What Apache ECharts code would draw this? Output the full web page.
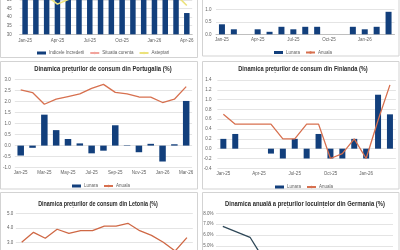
<!DOCTYPE html>
<html>
<head>
<meta charset="utf-8">
<script src="https://cdn.jsdelivr.net/npm/echarts@6/dist/echarts.min.js"></script>
<style>
html, body { margin: 0; padding: 0; background: #fff; }
#chart { width: 400px; height: 250px; }
</style>
</head>
<body>
<div id="chart"></div>
<script>
// months shown on the monthly charts
var months16 = ['Jan-25','Feb-25','Mar-25','Apr-25','May-25','Jun-25','Jul-25','Aug-25','Sep-25','Oct-25','Nov-25','Dec-25','Jan-26','Feb-26','Mar-26','Apr-26'];
var months15 = months16.slice(0, 15);
var quartersDE = ['T1-22','T2-22','T3-22','T4-22','T1-23','T2-23','T3-23','T4-23','T1-24','T2-24','T3-24','T4-24','T1-25'];

// top left: confidence index (mostly above the visible part)
var incredere = [53.5, 53, 52.5, 52, 52.5, 53, 53.5, 54, 53.5, 53, 53.5, 54, 53.5, 53, 52.5, 42.4];
var situatie = [55, 54.5, 54, 53.5, 54, 54.5, 55, 55.5, 55, 54.5, 55, 55.5, 55, 54.5, 54, 52];
var asteptari = [54, 53, 52.4, 47.6, 50.3, 53, 54, 54.5, 54, 53.5, 54, 54.5, 54, 53.5, 53, 46.8];

// top right
var lunara2 = [0.4, 0.2, 0, 0.2, 0.1, 0.3, 0.2, 0.3, 0.3, 0, 0, 0.3, 0.2, 0.3, 0.9];
var anuala2 = [2.2, 2.1, 1.9, 1.9, 1.8, 1.9, 2.0, 2.1, 2.1, 2.0, 1.9, 1.9, 1.9, 2.0, 2.6];

// Portugal
var lunaraPT = [-0.45, -0.1, 1.4, 0.7, 0.3, 0.1, -0.35, -0.23, 0.92, 0.02, -0.3, 0.08, -0.72, 0.06, 2.02];
var anualaPT = [2.52, 2.4, 1.87, 2.1, 2.22, 2.34, 2.59, 2.77, 2.41, 2.34, 2.2, 2.19, 1.95, 2.1, 2.67];

// Finland
var lunaraFI = [0.2, 0.3, 0, 0, -0.1, -0.2, 0.2, -0.2, 0.3, -0.2, -0.2, 0.2, -0.2, 1.1, 0.7];
var anualaFI = [0.7, 0.5, 0.5, 0.5, 0.5, 0.2, 0.2, 0.5, 0.5, -0.2, -0.1, 0.2, -0.2, 0.58, 1.3];

// Latvia
var anualaLV = [3.0, 3.69, 3.28, 3.9, 3.62, 3.8, 3.8, 4.12, 4.12, 4.31, 3.8, 3.48, 3.0, 2.4, 3.32];

// Germany, housing prices
var anualaDE = [6.8, 6.3, 5.8, 3.8, null, null, null, null, null, null, null, null, null];

var NAVY = '#123f7c';
var RUST = '#d7704f';
var GRIDC = '#e4e4e4';
var LBL = '#5f5f5f';
var FONT = '"Liberation Sans", Arial, sans-serif';

var myChart = echarts.init(document.getElementById('chart'));

function fmt1(v) { return v.toFixed(1); }

function xAx(idx, data, interval, margin, showLine) {
    return {
        type: 'category', gridIndex: idx, data: data,
        axisTick: { show: false },
        axisLine: { show: showLine, onZero: false, lineStyle: { color: '#bfbfbf', width: 1 } },
        axisLabel: { interval: interval, fontSize: 4.5, color: LBL, margin: margin, fontFamily: FONT }
    };
}

function yAx(idx, min, max, interval, margin, formatter) {
    return {
        type: 'value', gridIndex: idx, min: min, max: max, interval: interval,
        axisLine: { show: false }, axisTick: { show: false },
        splitLine: { lineStyle: { color: GRIDC, width: 1 } },
        axisLabel: { fontSize: 4.5, color: LBL, margin: margin, fontFamily: FONT, formatter: formatter }
    };
}

function gridAt(left, top, width, height) {
    return { left: left, top: top, width: width, height: height, containLabel: false, outerBoundsMode: 'none' };
}

function titleText(cx, cy, text, sx) {
    return {
        type: 'text', x: cx, y: cy, scaleX: sx, z: 10,
        style: {
            text: text, font: 'bold 7.5px ' + FONT, fill: '#2a2a2a',
            textAlign: 'center', textVerticalAlign: 'middle', verticalAlign: 'middle'
        }
    };
}

function panel(x, y, w, h) {
    return {
        type: 'rect', shape: { x: x, y: y, width: w, height: h }, z: -10,
        style: { fill: 'none', stroke: '#d3d3d3', lineWidth: 1 }
    };
}

var legendBase = {
    itemWidth: 9, itemHeight: 3, itemGap: 5, padding: 0,
    textStyle: { fontSize: 4.5, color: LBL, fontFamily: FONT, padding: [0, 0, 0, -2] }
};

var option = {
    animation: false,
    backgroundColor: '#fff',
    graphic: [
        panel(0.5, -10, 197, 67.5),
        panel(202.5, -10, 196.5, 66),
        panel(0.5, 61.5, 197, 127.5),
        panel(202.5, 61.5, 196.5, 127.5),
        panel(0.5, 192.5, 197, 70),
        panel(202.5, 192.5, 196.5, 70),
        titleText(103, 69.3, 'Dinamica prețurilor de consum din Portugalia (%)', 0.78),
        titleText(303, 69.3, 'Dinamica prețurilor de consum din Finlanda (%)', 0.76),
        titleText(98, 203.8, 'Dinamica prețurilor de consum din Letonia (%)', 0.72),
        titleText(305, 203.8, 'Dinamica anuală a prețurilor locuințelor din Germania (%)', 0.78)
    ],
    legend: [
        Object.assign({}, legendBase, { left: 37, top: 50.5, data: [{ name: 'Indicele Increderii', icon: 'rect' }, 'Situatia curenta', 'Asteptari' ] }),
        Object.assign({}, legendBase, { left: 274, top: 50, data: [{ name: 'Lunara', icon: 'rect' }, 'Anuala'] }),
        Object.assign({}, legendBase, { left: 72, top: 183.5, data: [{ name: 'Lunara', icon: 'rect' }, 'Anuala'] }),
        Object.assign({}, legendBase, { left: 275, top: 184.5, data: [{ name: 'Lunara', icon: 'rect' }, 'Anuala'] })
    ],
    grid: [
        gridAt(19.7, 0, 172.5, 34.3),
        gridAt(216, -3.2, 178.5, 37.5),
        gridAt(14.8, 79.3, 177.3, 88.4),
        gridAt(217.4, 80, 178.5, 88.3),
        gridAt(15.8, 213.3, 177, 72.5),
        gridAt(216, 213.3, 177, 218)
    ],
    xAxis: [
        xAx(0, months16, 2, 3.5, true),
        xAx(1, months15, 2, 3, true),
        xAx(2, months15, 1, 3, false),
        xAx(3, months15, 2, 3, false),
        xAx(4, months15, 1, 3, false),
        xAx(5, quartersDE, 1, 3, false)
    ],
    yAxis: [
        yAx(0, 30, 50, 5, 8, null),
        yAx(1, 0, 1.5, 0.5, 4.5, fmt1),
        yAx(2, -1, 3, 0.5, 4, fmt1),
        yAx(3, -0.4, 1.4, 0.2, 6, fmt1),
        yAx(4, 0, 5, 1, 2.5, fmt1),
        yAx(5, -12, 8, 1, 2.5, function (v) { return v.toFixed(1) + '%'; })
    ],
    series: [
        { name: 'Indicele Increderii', type: 'bar', xAxisIndex: 0, yAxisIndex: 0, data: incredere, barWidth: 5.5, itemStyle: { color: NAVY } },
        { name: 'Situatia curenta', type: 'line', xAxisIndex: 0, yAxisIndex: 0, data: situatie, symbol: 'none', itemStyle: { color: '#f2a49c' }, lineStyle: { color: '#f2a49c', width: 1.2 } },
        { name: 'Asteptari', type: 'line', xAxisIndex: 0, yAxisIndex: 0, data: asteptari, symbol: 'none', itemStyle: { color: '#ece27c' }, lineStyle: { color: '#ece27c', width: 1.6 } },

        { name: 'Lunara', type: 'bar', xAxisIndex: 1, yAxisIndex: 1, data: lunara2, barWidth: 6, itemStyle: { color: NAVY } },
        { name: 'Anuala', type: 'line', xAxisIndex: 1, yAxisIndex: 1, data: anuala2, symbol: 'none', itemStyle: { color: RUST }, lineStyle: { color: RUST, width: 1.3 } },

        { name: 'Lunara', type: 'bar', xAxisIndex: 2, yAxisIndex: 2, data: lunaraPT, barWidth: 6.5, itemStyle: { color: NAVY } },
        { name: 'Anuala', type: 'line', xAxisIndex: 2, yAxisIndex: 2, data: anualaPT, symbol: 'none', itemStyle: { color: RUST }, lineStyle: { color: RUST, width: 1.3 } },

        { name: 'Lunara', type: 'bar', xAxisIndex: 3, yAxisIndex: 3, data: lunaraFI, barWidth: 6, itemStyle: { color: NAVY } },
        { name: 'Anuala', type: 'line', xAxisIndex: 3, yAxisIndex: 3, data: anualaFI, symbol: 'none', itemStyle: { color: RUST }, lineStyle: { color: RUST, width: 1.3 } },

        { name: 'Anuala', type: 'line', xAxisIndex: 4, yAxisIndex: 4, data: anualaLV, symbol: 'none', itemStyle: { color: RUST }, lineStyle: { color: '#cf6845', width: 1.3 } },

        { name: 'Germania', type: 'line', xAxisIndex: 5, yAxisIndex: 5, data: anualaDE, symbol: 'none', itemStyle: { color: '#2f4858' }, lineStyle: { color: '#2f4858', width: 1.3 } }
    ]
};

myChart.setOption(option);
window.addEventListener('resize', function () { myChart.resize(); });
</script>
</body>
</html>
